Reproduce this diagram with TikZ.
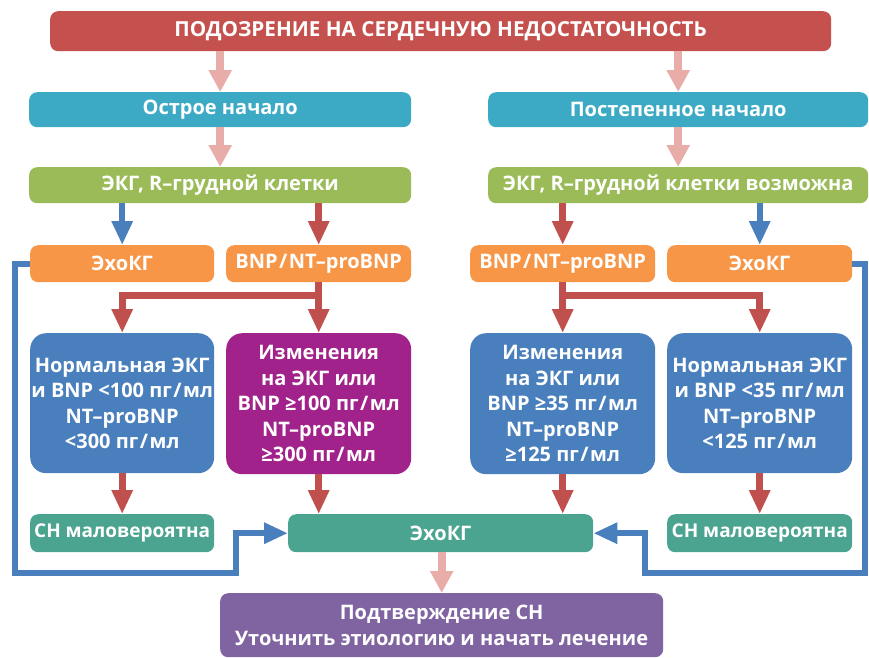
\documentclass[tikz,border=0pt]{standalone}
\usepackage{fontspec}
\setmainfont{Open Sans}
\usetikzlibrary{arrows.meta}
\definecolor{cTop}{HTML}{C4514D}
\definecolor{cPink}{HTML}{E8ADA9}
\definecolor{cTeal}{HTML}{3DAAC5}
\definecolor{cGreen}{HTML}{9BBB59}
\definecolor{cOrange}{HTML}{F79646}
\definecolor{cBlue}{HTML}{4A7FBD}
\definecolor{cMag}{HTML}{A0228A}
\definecolor{cSea}{HTML}{4BA48F}
\definecolor{cPurple}{HTML}{8064A2}
\definecolor{cRed}{HTML}{C0504D}
\newcommand{\gee}{≥}
\newcommand{\slsh}{\kern1.5pt/\kern1.5pt}
\tikzset{
  box/.style={rectangle, rounded corners=8pt, inner sep=0pt, anchor=north west, align=center, text=white, font=\bfseries\fontsize{20}{25.5}\selectfont},
  bigbox/.style={box, rounded corners=16pt},
  parrow/.style={draw=cPink, line width=8pt, -{Triangle[width=22pt,length=22pt]}},
  rarrow/.style={draw=cRed, line width=7pt, -{Triangle[width=20pt,length=24pt]}, line join=miter},
  barrow/.style={draw=cBlue, line width=6pt, -{Triangle[width=20pt,length=24pt]}, line join=miter},
}
\begin{document}
\begin{tikzpicture}[x=1pt,y=1pt]
\useasboundingbox (0,0) rectangle (869,-657);
% nodes
\node[box, fill=cTop, minimum width=781pt, minimum height=40pt, font=\bfseries\fontsize{20.7}{25.5}\selectfont] (top) at (50,-11) {ПОДОЗРЕНИЕ НА СЕРДЕЧНУЮ НЕДОСТАТОЧНОСТЬ};
\node[box, fill=cTeal, minimum width=382pt, minimum height=35pt] (acute) at (29,-92) {Острое начало};
\node[box, fill=cTeal, minimum width=380pt, minimum height=35pt] (grad) at (488,-92) {Постепенное начало};
\node[box, fill=cGreen, minimum width=382pt, minimum height=36pt] (ekgL) at (29,-167) {ЭКГ, R–грудной клетки};
\node[box, fill=cGreen, minimum width=380pt, minimum height=36pt] (ekgR) at (488,-167) {ЭКГ, R–грудной клетки возможна};
\node[box, fill=cOrange, minimum width=184pt, minimum height=37pt] (echoL) at (30,-245) {ЭхоКГ};
\node[box, fill=cOrange, minimum width=185pt, minimum height=37pt] (bnpL) at (226,-245) {BNP\slsh NT–proBNP};
\node[box, fill=cOrange, minimum width=185pt, minimum height=37pt] (bnpR) at (470,-245) {BNP\slsh NT–proBNP};
\node[box, fill=cOrange, minimum width=185pt, minimum height=37pt] (echoR) at (667,-245) {ЭхоКГ};
\node[bigbox, fill=cBlue, minimum width=184pt, minimum height=140pt] (normL) at (30,-333) {Нормальная ЭКГ\\и BNP <100 пг\slsh мл\\NT–proBNP\\<300 пг\slsh мл};
\node[bigbox, fill=cMag, minimum width=185pt, minimum height=141pt] (chgL) at (226,-333) {Изменения\\на ЭКГ или\\BNP \gee100 пг\slsh мл\\NT–proBNP\\\gee300 пг\slsh мл};
\node[bigbox, fill=cBlue, minimum width=185pt, minimum height=141pt] (chgR) at (470,-333) {Изменения\\на ЭКГ или\\BNP \gee35 пг\slsh мл\\NT–proBNP\\\gee125 пг\slsh мл};
\node[bigbox, fill=cBlue, minimum width=185pt, minimum height=140pt] (normR) at (667,-333) {Нормальная ЭКГ\\и BNP <35 пг\slsh мл\\NT–proBNP\\<125 пг\slsh мл};
\node[box, fill=cSea, minimum width=184pt, minimum height=38pt, font=\bfseries\fontsize{19}{25.5}\selectfont] (unlL) at (30,-514) {СН маловероятна};
\node[box, fill=cSea, minimum width=305pt, minimum height=38pt] (echoM) at (288,-514) {ЭхоКГ};
\node[box, fill=cSea, minimum width=185pt, minimum height=38pt, font=\bfseries\fontsize{19}{25.5}\selectfont] (unlR) at (667,-514) {СН маловероятна};
\node[box, fill=cPurple, minimum width=443pt, minimum height=64pt] (final) at (220,-593) {Подтверждение СН\\Уточнить этиологию и начать лечение};
% coordinates for loops
\coordinate (lA) at (15,-573);
\coordinate (lB) at (236,-573);
\coordinate (rA) at (865,-573);
\coordinate (rB) at (645,-573);
% arrows
\draw[parrow] (top.south -| acute.north) -- (acute.north);
\draw[parrow] (top.south -| grad.north) -- (grad.north);
\draw[parrow] (acute.south) -- (ekgL.north);
\draw[parrow] (grad.south) -- (ekgR.north);
\draw[barrow] (ekgL.south -| echoL.north) -- (echoL.north);
\draw[rarrow] (ekgL.south -| bnpL.north) -- (bnpL.north);
\draw[rarrow] (ekgR.south -| bnpR.north) -- (bnpR.north);
\draw[barrow] (ekgR.south -| echoR.north) -- (echoR.north);
\draw[rarrow] (bnpL.south) -- (chgL.north);
\draw[rarrow] (bnpL.south) -- ++(0,-13) -| (normL.north);
\draw[rarrow] (bnpR.south) -- (chgR.north);
\draw[rarrow] (bnpR.south) -- ++(0,-13) -| (normR.north);
\draw[rarrow] (normL.south) -- (unlL.north);
\draw[rarrow] (chgL.south) -- (chgL.south |- echoM.north);
\draw[rarrow] (chgR.south) -- (chgR.south |- echoM.north);
\draw[rarrow] (normR.south) -- (unlR.north);
\draw[parrow] (echoM.south -| final.north) -- (final.north);
\draw[barrow] (echoL.west) -| (lA) -- (lB) |- (echoM.west);
\draw[barrow] (echoR.east) -| (rA) -- (rB) |- (echoM.east);
\end{tikzpicture}
\end{document}
